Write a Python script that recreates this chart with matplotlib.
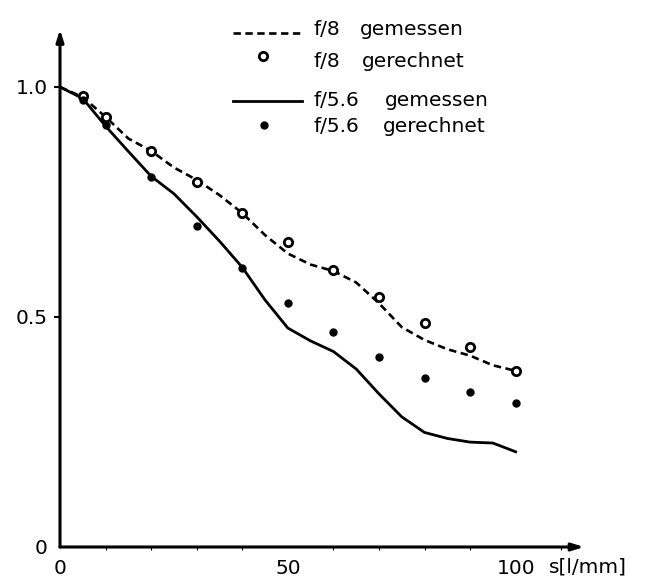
import matplotlib
matplotlib.use("Agg")
import matplotlib.pyplot as plt
from matplotlib.ticker import MultipleLocator

plt.rcParams['font.family'] = ['DejaVu Sans']

# ---- data ----
s_meas = [0, 5, 10, 15, 20, 25, 30, 35, 40, 45, 50, 55, 60, 65, 70, 75, 80, 85, 90, 95, 100]
f8_meas = [1.0, 0.978, 0.935, 0.888, 0.861, 0.825, 0.798, 0.765, 0.726, 0.678, 0.638,
           0.614, 0.600, 0.575, 0.530, 0.478, 0.450, 0.430, 0.416, 0.395, 0.383]
f56_meas = [1.0, 0.975, 0.915, 0.860, 0.806, 0.768, 0.718, 0.665, 0.608, 0.537, 0.476,
            0.448, 0.425, 0.387, 0.333, 0.283, 0.249, 0.236, 0.228, 0.226, 0.207]

s_calc = [5, 10, 20, 30, 40, 50, 60, 70, 80, 90, 100]
f8_calc = [0.980, 0.935, 0.861, 0.793, 0.726, 0.663, 0.602, 0.543, 0.487, 0.435, 0.383]
f56_calc = [0.972, 0.917, 0.804, 0.698, 0.607, 0.530, 0.467, 0.413, 0.367, 0.337, 0.313]

x_ticks = [0, 50, 100]
x_tick_labels = ["0", "50", "100"]
y_ticks = [0, 0.5, 1.0]
y_tick_labels = ["0", "0.5", "1.0"]

legend_labels = [("f/8", "gemessen"), ("f/8", "gerechnet"),
                 ("f/5.6", "gemessen"), ("f/5.6", "gerechnet")]

W, H = 648, 578
fig = plt.figure(figsize=(W / 100, H / 100), dpi=100)
ax = fig.add_axes([60 / W, 31 / H, 524 / W, 517.5 / H])
ax.set_xlim(0, 115)
ax.set_ylim(0, 1.125)

for sp in ax.spines.values():
    sp.set_visible(False)

# axes with arrows
arrow = dict(arrowstyle='-|>,head_length=0.7,head_width=0.22', lw=2.2, color='black',
             shrinkA=0, shrinkB=0)
ax.annotate('', xy=(0, 1.125), xytext=(0, 0), arrowprops=arrow, annotation_clip=False)
ax.annotate('', xy=(115, 0), xytext=(0, 0), arrowprops=arrow, annotation_clip=False)

# curves
ax.plot(s_meas, f8_meas, color='black', lw=1.9, linestyle=(0, (2.8, 1.7)),
        solid_capstyle='butt', dash_capstyle='butt')
ax.plot(s_meas, f56_meas, color='black', lw=2.0)
ax.plot(s_calc, f8_calc, linestyle='none', marker='o', markersize=6.0,
        markerfacecolor='white', markeredgecolor='black', markeredgewidth=2.0)
ax.plot(s_calc, f56_calc, linestyle='none', marker='o', markersize=5.0,
        markerfacecolor='black', markeredgecolor='black')

# ticks
ax.set_xticks(x_ticks)
ax.set_xticklabels(x_tick_labels)
ax.xaxis.set_minor_locator(MultipleLocator(10))
ax.tick_params(axis='x', which='major', length=0, pad=9, labelsize=14.5)
ax.tick_params(axis='x', which='minor', length=1.8, width=0.8, direction='out')
ax.set_yticks(y_ticks)
ax.set_yticklabels(y_tick_labels)
ax.tick_params(axis='y', which='major', length=4, width=1.5, pad=5, labelsize=14.5)
ax.yaxis.get_major_ticks()[0].tick1line.set_visible(False)

ax.text(107.3, -20 / 517.5, "s[l/mm]", transform=ax.get_xaxis_transform(),
        ha='left', va='center', fontsize=14.5)

# legend drawn by hand
def fx(px):
    return px / W

def fy(py):
    return 1 - py / H

fig.add_artist(plt.Line2D([fx(233), fx(300)], [fy(33), fy(33)], color='black', lw=1.9,
                          linestyle=(0, (2.8, 1.7)), transform=fig.transFigure))
fig.add_artist(plt.Line2D([fx(263)], [fy(56)], linestyle='none', marker='o', markersize=6.0,
                          markerfacecolor='white', markeredgecolor='black',
                          markeredgewidth=2.0, transform=fig.transFigure))
fig.add_artist(plt.Line2D([fx(233), fx(302)], [fy(101), fy(101)], color='black', lw=2.0,
                          transform=fig.transFigure))
fig.add_artist(plt.Line2D([fx(264)], [fy(125)], linestyle='none', marker='o', markersize=5.0,
                          markerfacecolor='black', markeredgecolor='black',
                          transform=fig.transFigure))

baselines = [35, 67, 106, 132]
word_x = [360, 362, 385, 383]
for (a, b), yb, wx in zip(legend_labels, baselines, word_x):
    fig.text(fx(313), fy(yb), a, ha='left', va='baseline', fontsize=14.5)
    fig.text(fx(wx), fy(yb), b, ha='left', va='baseline', fontsize=14.5)

fig.savefig("out.png", dpi=100, facecolor='white')
